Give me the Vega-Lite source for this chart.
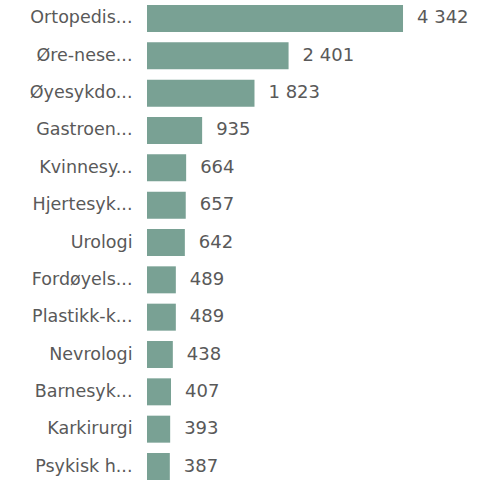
{
  "$schema": "https://vega.github.io/schema/vega-lite/v6.json",
  "width": 348,
  "height": 485,
  "padding": {"left": 147, "top": 0, "right": 0, "bottom": 0},
  "autosize": {"type": "none"},
  "config": {
    "view": {"stroke": null},
    "locale": {"number": {"decimal": ",", "thousands": " ", "grouping": [3], "currency": ["", " kr"]}},
    "font": "DejaVu Sans"
  },
  "data": {
    "values": [
      {"fag": "Ortopedis...", "antall": 4342},
      {"fag": "Øre-nese...", "antall": 2401},
      {"fag": "Øyesykdo...", "antall": 1823},
      {"fag": "Gastroen...", "antall": 935},
      {"fag": "Kvinnesy...", "antall": 664},
      {"fag": "Hjertesyk...", "antall": 657},
      {"fag": "Urologi", "antall": 642},
      {"fag": "Fordøyels...", "antall": 489},
      {"fag": "Plastikk-k...", "antall": 489},
      {"fag": "Nevrologi", "antall": 438},
      {"fag": "Barnesyk...", "antall": 407},
      {"fag": "Karkirurgi", "antall": 393},
      {"fag": "Psykisk h...", "antall": 387}
    ]
  },
  "encoding": {
    "y": {
      "field": "fag", "type": "nominal", "sort": null,
      "scale": {"paddingInner": 0.277, "paddingOuter": 0.134},
      "axis": {"title": null, "domain": false, "ticks": false, "labelPadding": 15, "labelFontSize": 17.5, "labelColor": "#595959", "labelLimit": 200}
    },
    "x": {
      "field": "antall", "type": "quantitative",
      "scale": {"domain": [0, 5902], "nice": false},
      "axis": null
    }
  },
  "layer": [
    {"mark": {"type": "bar", "color": "#79a194"}},
    {
      "mark": {"type": "text", "align": "left", "baseline": "middle", "dx": 14, "fontSize": 18, "color": "#595959"},
      "encoding": {"text": {"field": "antall", "type": "quantitative", "format": ",d"}}
    }
  ]
}
